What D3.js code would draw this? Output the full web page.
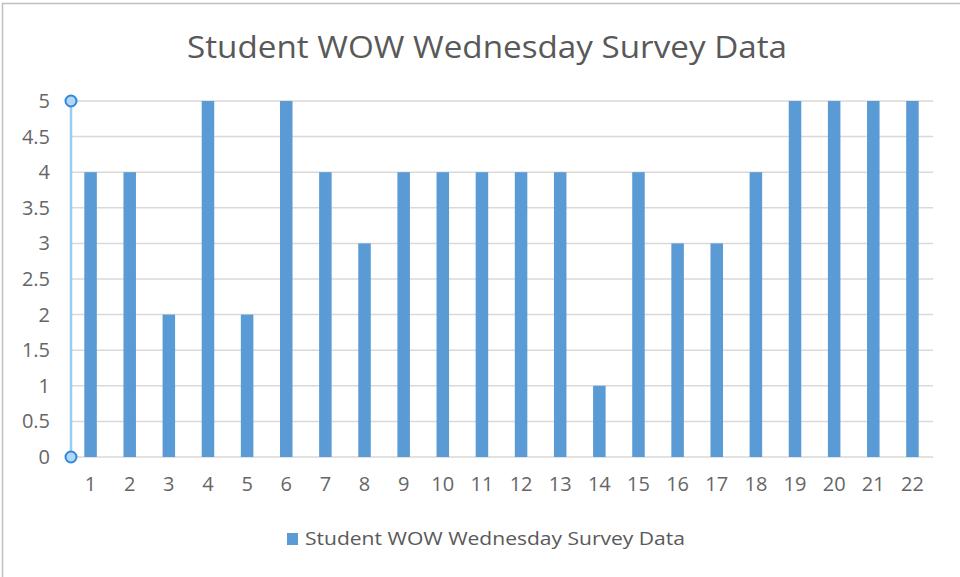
<!DOCTYPE html>
<html>
<head>
<meta charset="utf-8">
<script src="https://cdn.jsdelivr.net/npm/d3@7"></script>
<style>
  body { margin: 0; background: #fff; }
  svg { display: block; font-family: "Open Sans", sans-serif; }
</style>
</head>
<body>
<svg id="chart" width="960" height="577"></svg>
<script>
// données
var titre = "Student WOW Wednesday Survey Data";
var categories = ["1","2","3","4","5","6","7","8","9","10","11","12","13","14","15","16","17","18","19","20","21","22"];
var valeurs = [4,4,2,5,2,5,4,3,4,4,4,4,4,1,4,3,3,4,5,5,5,5];
var yTicks = [0,0.5,1,1.5,2,2.5,3,3.5,4,4.5,5];

var couleurBarre = "#5b9bd5",
    couleurTexte = "#595959",
    couleurGrille = "#d9d9d9";

var svg = d3.select("#chart");

// cadre de la zone du graphique
svg.append("path")
    .attr("d", "M2.5,577 L2.5,3.5 L960,3.5")
    .attr("fill", "none")
    .attr("stroke", "#bfbfbf")
    .attr("stroke-width", 1.5);

var x = d3.scaleBand()
    .domain(categories)
    .range([71, 932])
    .paddingInner(0.68)
    .paddingOuter(0.34);

var y = d3.scaleLinear()
    .domain([0, 5])
    .range([457, 101]);

// titre
svg.append("text")
    .attr("x", 487)
    .attr("y", 58)
    .attr("text-anchor", "middle")
    .attr("font-size", 31)
    .attr("fill", couleurTexte)
    .attr("textLength", 600)
    .attr("lengthAdjust", "spacingAndGlyphs")
    .text(titre);

// grille horizontale
svg.append("g")
    .selectAll("line")
    .data(yTicks)
    .join("line")
    .attr("x1", 71)
    .attr("x2", 933)
    .attr("y1", function(d){ return y(d); })
    .attr("y2", function(d){ return y(d); })
    .attr("stroke", couleurGrille)
    .attr("stroke-width", 1.5);

// axe y
var axeY = svg.append("g")
    .attr("transform", "translate(71,0)")
    .call(d3.axisLeft(y).tickValues(yTicks).tickSize(0).tickPadding(21).tickFormat(d3.format("")));
axeY.select(".domain").remove();
axeY.selectAll("text")
    .attr("font-size", 20)
    .attr("font-family", "Open Sans, sans-serif")
    .attr("fill", "#666");

// axe x
var axeX = svg.append("g")
    .attr("transform", "translate(0,457)")
    .call(d3.axisBottom(x).tickSize(0).tickPadding(20));
axeX.select(".domain").remove();
axeX.selectAll("text")
    .attr("font-size", 20)
    .attr("font-family", "Open Sans, sans-serif")
    .attr("fill", "#666");

// barres
svg.append("g")
    .selectAll("rect")
    .data(valeurs)
    .join("rect")
    .attr("x", function(d, i){ return x(categories[i]); })
    .attr("y", function(d){ return y(d); })
    .attr("width", x.bandwidth())
    .attr("height", function(d){ return y(0) - y(d); })
    .attr("fill", couleurBarre);

// axe vertical sélectionné (poignées)
svg.append("line")
    .attr("x1", 71).attr("x2", 71)
    .attr("y1", y(5)).attr("y2", y(0))
    .attr("stroke", "#9ccbf0")
    .attr("stroke-width", 2.5);
svg.append("g")
    .selectAll("circle")
    .data([0, 5])
    .join("circle")
    .attr("cx", 71)
    .attr("cy", function(d){ return y(d); })
    .attr("r", 5.5)
    .attr("fill", "#b4d5f3")
    .attr("stroke", "#2e8ad8")
    .attr("stroke-width", 2);

// légende
svg.append("rect")
    .attr("x", 287)
    .attr("y", 533)
    .attr("width", 11)
    .attr("height", 12)
    .attr("fill", couleurBarre);
svg.append("text")
    .attr("x", 305)
    .attr("y", 545)
    .attr("font-size", 19)
    .attr("fill", couleurTexte)
    .attr("textLength", 380)
    .attr("lengthAdjust", "spacingAndGlyphs")
    .text(titre);
</script>
</body>
</html>
